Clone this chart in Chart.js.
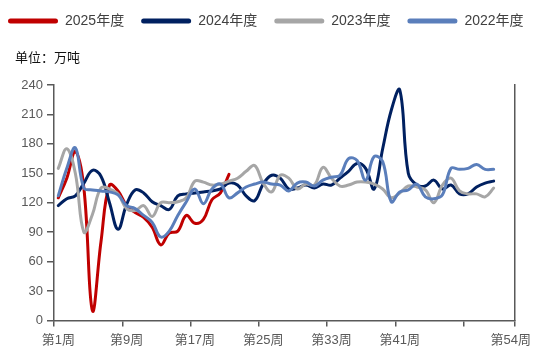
<!DOCTYPE html>
<html>
<head>
<meta charset="utf-8">
<script src="https://cdn.jsdelivr.net/npm/chart.js@4.4.1/dist/chart.umd.min.js"></script>
<style>
html,body{margin:0;padding:0;background:#ffffff;}
#wrap{width:552px;height:360px;position:relative;}
</style>
</head>
<body>
<div id="wrap"><canvas id="c" width="552" height="360"></canvas></div>
<script>
// ---- data ----
const weekCount = 54;
const weeks = Array.from({length: weekCount}, (_, i) => '第' + (i + 1) + '周');
const labeledWeeks = ['第1周', '第9周', '第17周', '第25周', '第33周', '第41周', '第54周'];
const seriesNames = ['2025年度', '2024年度', '2023年度', '2022年度'];
const unitText = '单位：万吨';
const yMin = 0, yMax = 240, yStep = 30;

const y2025 = [125, 145, 172, 135, 10, 80, 138, 132, 117, 110, 105, 95, 77, 89, 91, 107, 99, 103, 123, 130, 149];
const y2024 = [117, 124, 127, 140, 153, 147, 120, 93, 118, 133,
               130, 121, 117, 113, 127, 129, 130, 131, 132, 134,
               140, 138, 127, 122, 139, 148, 145, 134, 135, 138,
               135, 139, 138, 145, 152, 160, 155, 134, 175, 214,
               235, 150, 138, 137, 143, 134, 138, 129, 129, 136, 140, 142];
const y2023 = [155, 175, 150, 90, 108, 135, 134, 129, 114, 112,
               117, 106, 120, 120, 121, 125, 142, 141, 138, 139,
               142, 145, 152, 158, 140, 131, 148, 145, 134, 139,
               138, 156, 145, 137, 138, 141, 141, 139, 134, 125,
               130, 137, 136, 133, 120, 138, 145, 132, 129, 129, 126, 135];
const y2022 = [127, 155, 176, 135, 133, 132, 131, 128, 117, 114,
               107, 100, 85, 91, 107, 121, 134, 119, 134, 139,
               125, 130, 136, 139, 141, 139, 138, 132, 140, 141,
               137, 143, 146, 148, 165, 163, 143, 167, 162, 121,
               131, 133, 139, 126, 124, 128, 155, 154, 155, 159, 154, 154];

// ---- style ----
const colors = ['#C00000', '#002060', '#A6A6A6', '#5A7EBB'];
const axisColor = '#595959';
const fontFamily = "'Liberation Sans', 'Noto Sans CJK SC', sans-serif";

const unitBoxPlugin = {
  id: 'unitBox',
  beforeInit(chart) {
    const box = {
      position: 'top', weight: 500, fullSize: true, options: {},
      top: 0, bottom: 0, left: 0, right: 0, width: 0, height: 0,
      isHorizontal() { return true; },
      update(maxWidth) { this.width = maxWidth; this.height = 44; return {}; },
      draw() {
        const ctx = chart.ctx;
        ctx.save();
        ctx.font = "13px 'Noto Sans CJK SC', sans-serif";
        ctx.fillStyle = '#111111';
        ctx.textAlign = 'left';
        ctx.textBaseline = 'middle';
        ctx.fillText(unitText, 15, this.top + 16);
        ctx.restore();
      }
    };
    Chart.layouts.addBox(chart, box);
  }
};

const legendShift = {
  id: 'legendShift',
  afterLayout(chart) {
    if (chart.legend) { chart.legend.left -= 9; chart.legend.top -= 3; }
  }
};

const seriesData = [y2025, y2024, y2023, y2022];
const datasets = seriesNames.map((name, i) => ({
  label: name,
  data: seriesData[i],
  borderColor: colors[i],
  backgroundColor: colors[i],
  borderWidth: 3,
  pointRadius: 0,
  pointHoverRadius: 0,
  tension: 0.4,
  fill: false,
  borderCapStyle: 'round',
  borderJoinStyle: 'round',
  order: 4 - i,
  yAxisID: 'y'
}));

new Chart(document.getElementById('c'), {
  type: 'line',
  data: { labels: weeks, datasets },
  options: {
    responsive: false,
    animation: false,
    devicePixelRatio: 1,
    layout: { padding: { top: 0, left: 0, right: 0, bottom: 6 } },
    plugins: {
      tooltip: { enabled: false },
      title: { display: false },
      legend: {
        display: true,
        position: 'top',
        align: 'start',
        labels: {
          boxWidth: 50,
          boxHeight: 5,
          padding: 17,
          useBorderRadius: true,
          borderRadius: 2.5,
          color: '#404040',
          font: { size: 14, family: fontFamily },
          generateLabels(chart) {
            return chart.data.datasets.map((ds, i) => ({
              text: ds.label,
              fillStyle: ds.borderColor,
              strokeStyle: ds.borderColor,
              lineWidth: 0,
              borderRadius: 2.5,
              hidden: !chart.isDatasetVisible(i),
              datasetIndex: i,
              fontColor: '#404040'
            }));
          }
        }
      }
    },
    scales: {
      x: {
        type: 'category',
        offset: true,
        grid: {
          display: true,
          drawOnChartArea: false,
          offset: true,
          tickLength: 6,
          lineWidth: 1.5,
          color: (ctx) => (ctx.index === undefined || ctx.index % 8 === 0) ? axisColor : 'rgba(0,0,0,0)'
        },
        border: { display: true, color: axisColor, width: 1.5 },
        ticks: {
          autoSkip: false,
          maxRotation: 0,
          minRotation: 0,
          padding: 6,
          color: axisColor,
          font: { size: 13, family: fontFamily },
          callback: function (v) {
            const l = this.getLabelForValue(v);
            return labeledWeeks.includes(l) ? l : '';
          }
        }
      },
      y: {
        position: 'left',
        min: yMin,
        max: yMax,
        grid: { display: true, drawOnChartArea: false, tickLength: 7, lineWidth: 1.5, color: axisColor },
        border: { display: true, color: axisColor, width: 1.5 },
        ticks: { stepSize: yStep, padding: 4, color: axisColor, font: { size: 13, family: fontFamily } },
        afterFit(s) { s.width = 54; }
      },
      y2: {
        position: 'right',
        display: true,
        grid: { display: false, drawTicks: false },
        ticks: { display: false },
        border: { display: true, color: axisColor, width: 1.5 },
        afterFit(s) { s.width = 37; }
      }
    }
  },
  plugins: [unitBoxPlugin, legendShift]
});
</script>
</body>
</html>
